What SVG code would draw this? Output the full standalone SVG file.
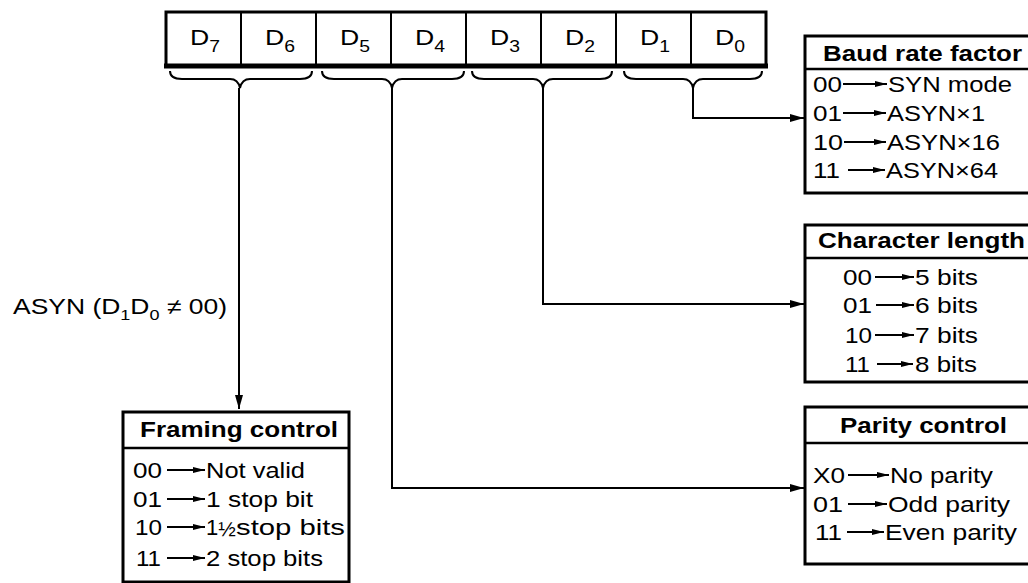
<svg xmlns="http://www.w3.org/2000/svg" width="1028" height="583" viewBox="0 0 1028 583">
<defs>
<style>
.t{font-family:"Liberation Sans",Arial,sans-serif;font-size:22px;fill:#000}
.b{font-weight:bold}
.box{fill:#fff;stroke:#000;stroke-width:3}
.div{stroke:#000;stroke-width:2.5}
.con{fill:none;stroke:#000;stroke-width:2}
.ra{fill:none;stroke:#000;stroke-width:1.8;marker-end:url(#sa)}
.br{fill:none;stroke:#000;stroke-width:2}
</style>
<marker id="la" viewBox="0 0 14 8" refX="14" refY="4" markerWidth="14" markerHeight="8" markerUnits="userSpaceOnUse" orient="auto"><path d="M0,0 L14,4 L0,8 z" fill="#000"/></marker>
<marker id="sa" viewBox="0 0 12 6" refX="12" refY="3" markerWidth="12" markerHeight="6" markerUnits="userSpaceOnUse" orient="auto"><path d="M0,0 L12,3 L0,6 z" fill="#000"/></marker>
</defs>
<rect width="1028" height="583" fill="#fff"/>

<g id="register">
<rect x="166" y="12" width="600" height="54" fill="#fff" stroke="#000" stroke-width="3"/>
<line x1="164" y1="66" x2="768" y2="66" stroke="#000" stroke-width="5"/>
<g stroke="#000" stroke-width="2">
<line x1="241" y1="12" x2="241" y2="66"/><line x1="316" y1="12" x2="316" y2="66"/>
<line x1="391" y1="12" x2="391" y2="66"/><line x1="466" y1="12" x2="466" y2="66"/>
<line x1="541" y1="12" x2="541" y2="66"/><line x1="616" y1="12" x2="616" y2="66"/>
<line x1="691" y1="12" x2="691" y2="66"/>
</g>
<text class="t" x="190" y="45" textLength="30" lengthAdjust="spacingAndGlyphs">D<tspan font-size="16" dy="7">7</tspan></text>
<text class="t" x="265" y="45" textLength="30" lengthAdjust="spacingAndGlyphs">D<tspan font-size="16" dy="7">6</tspan></text>
<text class="t" x="340" y="45" textLength="30" lengthAdjust="spacingAndGlyphs">D<tspan font-size="16" dy="7">5</tspan></text>
<text class="t" x="415" y="45" textLength="30" lengthAdjust="spacingAndGlyphs">D<tspan font-size="16" dy="7">4</tspan></text>
<text class="t" x="490" y="45" textLength="30" lengthAdjust="spacingAndGlyphs">D<tspan font-size="16" dy="7">3</tspan></text>
<text class="t" x="565" y="45" textLength="30" lengthAdjust="spacingAndGlyphs">D<tspan font-size="16" dy="7">2</tspan></text>
<text class="t" x="640" y="45" textLength="30" lengthAdjust="spacingAndGlyphs">D<tspan font-size="16" dy="7">1</tspan></text>
<text class="t" x="715" y="45" textLength="30" lengthAdjust="spacingAndGlyphs">D<tspan font-size="16" dy="7">0</tspan></text>
</g>

<g id="braces">
<path class="br" d="M170,71 Q170,79 182,79 L230,79 Q238,79 240,88 Q242,79 250,79 L300,79 Q312,79 312,71"/>
<path class="br" d="M322,71 Q322,79 334,79 L382,79 Q390,79 392,88 Q394,79 402,79 L452,79 Q464,79 464,71"/>
<path class="br" d="M472,71 Q472,79 484,79 L533,79 Q541,79 543,88 Q545,79 553,79 L600,79 Q612,79 612,71"/>
<path class="br" d="M624,71 Q624,79 636,79 L683,79 Q691,79 693,88 Q695,79 703,79 L750,79 Q762,79 762,71"/>
</g>

<g id="connectors">
<path class="con" d="M239,88 L239,409" marker-end="url(#la)"/>
<path class="con" d="M392,88 L392,488 L804,488" marker-end="url(#la)"/>
<path class="con" d="M543,88 L543,304 L804,304" marker-end="url(#la)"/>
<path class="con" d="M693,88 L693,118 L804,118" marker-end="url(#la)"/>
</g>

<g id="asyn-label">
<text class="t" x="13" y="314" textLength="214" lengthAdjust="spacingAndGlyphs">ASYN (D<tspan font-size="15" dy="6">1</tspan><tspan dy="-6">D</tspan><tspan font-size="15" dy="6">0</tspan><tspan dy="-6"> ≠ 00)</tspan></text>
</g>

<g id="baud-rate-factor">
<rect class="box" x="805" y="36" width="232" height="157"/>
<line class="div" x1="805" y1="69" x2="1030" y2="69"/>
<text class="t b" x="823" y="61" textLength="199" lengthAdjust="spacingAndGlyphs">Baud rate factor</text>
<text class="t" x="813" y="92" textLength="29" lengthAdjust="spacingAndGlyphs">00</text>
<line class="ra" x1="843" y1="84" x2="887" y2="84"/>
<text class="t" x="888" y="92" textLength="124" lengthAdjust="spacingAndGlyphs">SYN mode</text>
<text class="t" x="813" y="121" textLength="29" lengthAdjust="spacingAndGlyphs">01</text>
<line class="ra" x1="843" y1="113" x2="886" y2="113"/>
<text class="t" x="887" y="121" textLength="98" lengthAdjust="spacingAndGlyphs">ASYN×1</text>
<text class="t" x="813" y="150" textLength="30" lengthAdjust="spacingAndGlyphs">10</text>
<line class="ra" x1="844" y1="142" x2="886" y2="142"/>
<text class="t" x="887" y="150" textLength="113" lengthAdjust="spacingAndGlyphs">ASYN×16</text>
<text class="t" x="813" y="178" textLength="27" lengthAdjust="spacingAndGlyphs">11</text>
<line class="ra" x1="848" y1="170" x2="885" y2="170"/>
<text class="t" x="886" y="178" textLength="112" lengthAdjust="spacingAndGlyphs">ASYN×64</text>
</g>

<g id="character-length">
<rect class="box" x="805" y="225" width="232" height="157"/>
<line class="div" x1="805" y1="258" x2="1030" y2="258"/>
<text class="t b" x="818" y="248" textLength="207" lengthAdjust="spacingAndGlyphs">Character length</text>
<text class="t" x="843" y="285" textLength="29" lengthAdjust="spacingAndGlyphs">00</text>
<line class="ra" x1="875" y1="277" x2="914" y2="277"/>
<text class="t" x="915" y="285" textLength="63" lengthAdjust="spacingAndGlyphs">5 bits</text>
<text class="t" x="843" y="313" textLength="29" lengthAdjust="spacingAndGlyphs">01</text>
<line class="ra" x1="876" y1="305" x2="914" y2="305"/>
<text class="t" x="915" y="313" textLength="63" lengthAdjust="spacingAndGlyphs">6 bits</text>
<text class="t" x="845" y="343" textLength="27" lengthAdjust="spacingAndGlyphs">10</text>
<line class="ra" x1="875" y1="335" x2="914" y2="335"/>
<text class="t" x="915" y="343" textLength="63" lengthAdjust="spacingAndGlyphs">7 bits</text>
<text class="t" x="845" y="372" textLength="25" lengthAdjust="spacingAndGlyphs">11</text>
<line class="ra" x1="877" y1="364" x2="913" y2="364"/>
<text class="t" x="915" y="372" textLength="62" lengthAdjust="spacingAndGlyphs">8 bits</text>
</g>

<g id="parity-control">
<rect class="box" x="805" y="407" width="232" height="157"/>
<line class="div" x1="805" y1="443" x2="1030" y2="443"/>
<text class="t b" x="840" y="433" textLength="167" lengthAdjust="spacingAndGlyphs">Parity control</text>
<text class="t" x="813" y="483" textLength="32" lengthAdjust="spacingAndGlyphs">X0</text>
<line class="ra" x1="848" y1="475" x2="889" y2="475"/>
<text class="t" x="890" y="483" textLength="103" lengthAdjust="spacingAndGlyphs">No parity</text>
<text class="t" x="813" y="512" textLength="30" lengthAdjust="spacingAndGlyphs">01</text>
<line class="ra" x1="848" y1="504" x2="887" y2="504"/>
<text class="t" x="888" y="512" textLength="122" lengthAdjust="spacingAndGlyphs">Odd parity</text>
<text class="t" x="815" y="540" textLength="27" lengthAdjust="spacingAndGlyphs">11</text>
<line class="ra" x1="847" y1="532" x2="884" y2="532"/>
<text class="t" x="885" y="540" textLength="132" lengthAdjust="spacingAndGlyphs">Even parity</text>
</g>

<g id="framing-control">
<rect class="box" x="123" y="412" width="226" height="170"/>
<line class="div" x1="123" y1="448" x2="349" y2="448"/>
<text class="t b" x="140" y="437" textLength="198" lengthAdjust="spacingAndGlyphs">Framing control</text>
<text class="t" x="133" y="478" textLength="29" lengthAdjust="spacingAndGlyphs">00</text>
<line class="ra" x1="167" y1="470" x2="205" y2="470"/>
<text class="t" x="206" y="478" textLength="99" lengthAdjust="spacingAndGlyphs">Not valid</text>
<text class="t" x="133" y="507" textLength="29" lengthAdjust="spacingAndGlyphs">01</text>
<line class="ra" x1="167" y1="499" x2="205" y2="499"/>
<text class="t" x="206" y="507" textLength="107" lengthAdjust="spacingAndGlyphs">1 stop bit</text>
<text class="t" x="135" y="535" textLength="27" lengthAdjust="spacingAndGlyphs">10</text>
<line class="ra" x1="167" y1="527" x2="205" y2="527"/>
<text class="t" x="206" y="535">1<tspan font-size="21" dy="1">½</tspan><tspan x="236" dy="-1" textLength="109" lengthAdjust="spacingAndGlyphs">stop bits</tspan></text>
<text class="t" x="136" y="566" textLength="25" lengthAdjust="spacingAndGlyphs">11</text>
<line class="ra" x1="167" y1="558" x2="205" y2="558"/>
<text class="t" x="206" y="566" textLength="117" lengthAdjust="spacingAndGlyphs">2 stop bits</text>
</g>
</svg>
